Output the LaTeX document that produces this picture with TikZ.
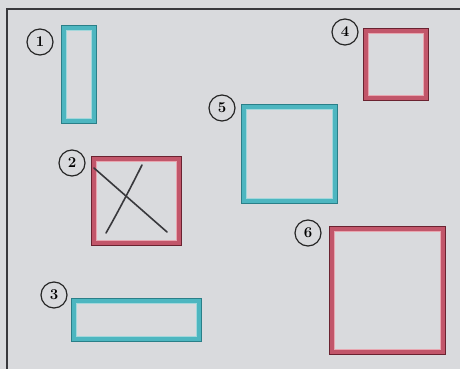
\documentclass[tikz,border=0pt]{standalone}
\usetikzlibrary{calc}
\definecolor{bg}{HTML}{D9DADD}
\definecolor{cydk}{HTML}{2A7F88}
\definecolor{cymn}{HTML}{4DB6C0}
\definecolor{cylt}{HTML}{A3D7DB}
\definecolor{rddk}{HTML}{6A2230}
\definecolor{rdmn}{HTML}{C2566A}
\definecolor{rdlt}{HTML}{E8A6B0}
\definecolor{ink}{HTML}{38383C}
\newcommand\mkrect[6]{%
  \fill[#6dk] (#2,#3) rectangle (#4,#5);
  \fill[#6mn] ({#2+1.4},{#3+1.4}) rectangle ({#4-1.4},{#5-1.4});
  \fill[#6lt] ({#2+5.2},{#3+5.2}) rectangle ({#4-5.2},{#5-5.2});
  \fill[bg] ({#2+6.3},{#3+6.3}) rectangle ({#4-6.3},{#5-6.3});
  \coordinate (#1) at ({(#2+#4)/2},{(#3+#5)/2});
}
\tikzset{
  num/.style={circle, draw=black!85, line width=1.2pt, minimum size=26pt, inner sep=0pt,
    font=\fontsize{15}{15}\selectfont\bfseries},
  frameline/.style={draw=ink, line width=1.3pt},
  crossline/.style={draw=ink, line width=1.6pt, line cap=round}
}
\begin{document}
\begin{tikzpicture}[x=1pt,y=-1pt]
\fill[bg] (0,0) rectangle (460,369);
\useasboundingbox (0,0) rectangle (460,369);
\coordinate (fbl) at (7,369);
\coordinate (ftl) at (7,9);
\coordinate (ftr) at (460,9);
\draw[frameline] (fbl) -- (ftl) -- (ftr);
% boxes
\mkrect{b1}{61}{25}{97}{124}{cy}
\mkrect{b2}{91}{156}{182}{246}{rd}
\mkrect{b3}{71}{298}{202}{342}{cy}
\mkrect{b4}{363}{28}{429}{101}{rd}
\mkrect{b5}{241}{104}{338}{204}{cy}
\mkrect{b6}{329}{226}{446}{355}{rd}
% cross in box 2
\coordinate (xa1) at (94,168);
\coordinate (xa2) at (167,232);
\coordinate (xb1) at (142,165);
\coordinate (xb2) at (106,233);
\draw[crossline] (xa1) -- (xa2);
\draw[crossline] (xb1) .. controls (132,185) and (118,212) .. (xb2);
% labels
\node[num] (n1) at (40,42) {1};
\node[num] (n2) at (72,163) {2};
\node[num] (n3) at (54,295) {3};
\node[num] (n4) at (345,32) {4};
\node[num] (n5) at (222,108) {5};
\node[num] (n6) at (308,233) {6};
\end{tikzpicture}
\end{document}
